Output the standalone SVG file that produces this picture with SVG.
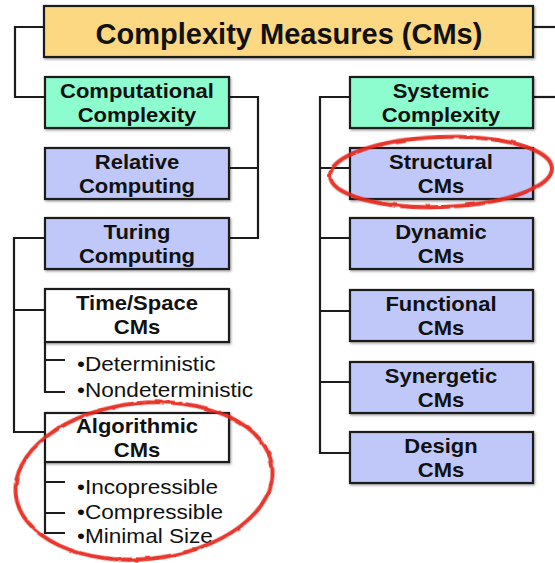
<svg xmlns="http://www.w3.org/2000/svg" width="555" height="563" viewBox="0 0 555 563">
  <defs>
    <filter id="shadow" x="-5%" y="-10%" width="110%" height="125%">
      <feDropShadow dx="1.2" dy="1.5" stdDeviation="0.9" flood-color="#000" flood-opacity="0.35"/>
    </filter>
    <filter id="rough" x="-10%" y="-20%" width="120%" height="140%">
      <feTurbulence type="fractalNoise" baseFrequency="0.08" numOctaves="2" seed="3" result="n"/>
      <feDisplacementMap in="SourceGraphic" in2="n" scale="2.5" xChannelSelector="R" yChannelSelector="G"/>
    </filter>
  </defs>
  <style>
    .box { stroke: #1c1c1c; stroke-width: 2.2; filter: url(#shadow); }
    .root { fill: #fdd883; }
    .aqua { fill: #8dfcce; }
    .lav { fill: #bfc8f9; }
    .plain { fill: #ffffff; }
    .lbl { font-family: "Liberation Sans", Arial, sans-serif; font-weight: bold; font-size: 20px; fill: #111; text-anchor: middle; transform-box: fill-box; transform-origin: center; transform: scaleX(1.1); }
    .title { font-family: "Liberation Sans", Arial, sans-serif; font-weight: bold; font-size: 29px; fill: #111; text-anchor: middle; }
    .item { font-family: "Liberation Sans", Arial, sans-serif; font-size: 20px; fill: #111; transform-box: fill-box; transform-origin: left center; transform: scaleX(1.13); }
    .wire { fill: none; stroke: #1c1c1c; stroke-width: 2.2; }
    .mark { fill: none; stroke: #e8261d; stroke-width: 4; opacity: 0.92; filter: url(#rough); }
  </style>

  <rect width="555" height="563" fill="#ffffff"/>

  <!-- tree connectors -->
  <g id="connectors">
    <path class="wire" d="M44,27 H15 V97 H45"/>
    <path class="wire" d="M533,27 H555"/>
    <path class="wire" d="M229,97 H258 V238 H229 M229,168 H258"/>
    <path class="wire" d="M45,238 H14 V432 H45 M14,310 H45"/>
    <path class="wire" d="M45,342 V392 H65 M45,360 H65"/>
    <path class="wire" d="M45,462 V533 H65 M45,482 H65 M45,513 H65"/>
    <path class="wire" d="M350,97 H320 V453 H350 M320,168 H350 M320,238 H350 M320,311 H350 M320,382 H350"/>
    <path class="wire" d="M533,97 H555"/>
  </g>

  <g id="complexity-measures">
    <rect class="box root" x="44" y="6" width="489" height="51"/>
    <text class="title" x="289" y="44">Complexity Measures (CMs)</text>
  </g>

  <g id="computational-complexity">
    <rect class="box aqua" x="45" y="77" width="184" height="51"/>
    <text class="lbl" x="137" y="98">Computational</text>
    <text class="lbl" x="137" y="122">Complexity</text>
  </g>

  <g id="relative-computing">
    <rect class="box lav" x="45" y="148" width="184" height="51"/>
    <text class="lbl" x="137" y="169">Relative</text>
    <text class="lbl" x="137" y="193">Computing</text>
  </g>

  <g id="turing-computing">
    <rect class="box lav" x="45" y="218" width="184" height="51"/>
    <text class="lbl" x="137" y="239">Turing</text>
    <text class="lbl" x="137" y="263">Computing</text>
  </g>

  <g id="time-space-cms">
    <rect class="box plain" x="45" y="289" width="184" height="53"/>
    <text class="lbl" x="137" y="310">Time/Space</text>
    <text class="lbl" x="137" y="334">CMs</text>
    <text class="item" x="77" y="371">•Deterministic</text>
    <text class="item" x="77" y="397">•Nondeterministic</text>
  </g>

  <g id="algorithmic-cms">
    <rect class="box plain" x="45" y="413" width="184" height="49"/>
    <text class="lbl" x="137" y="433">Algorithmic</text>
    <text class="lbl" x="137" y="457">CMs</text>
    <text class="item" x="77" y="494">•Incopressible</text>
    <text class="item" x="77" y="519">•Compressible</text>
    <text class="item" x="77" y="543">•Minimal Size</text>
  </g>

  <g id="systemic-complexity">
    <rect class="box aqua" x="350" y="77" width="183" height="51"/>
    <text class="lbl" x="441" y="98">Systemic</text>
    <text class="lbl" x="441" y="122">Complexity</text>
  </g>

  <g id="structural-cms">
    <rect class="box lav" x="350" y="148" width="183" height="51"/>
    <text class="lbl" x="441" y="169">Structural</text>
    <text class="lbl" x="441" y="193">CMs</text>
  </g>

  <g id="dynamic-cms">
    <rect class="box lav" x="350" y="218" width="183" height="51"/>
    <text class="lbl" x="441" y="239">Dynamic</text>
    <text class="lbl" x="441" y="263">CMs</text>
  </g>

  <g id="functional-cms">
    <rect class="box lav" x="350" y="290" width="183" height="51"/>
    <text class="lbl" x="441" y="311">Functional</text>
    <text class="lbl" x="441" y="335">CMs</text>
  </g>

  <g id="synergetic-cms">
    <rect class="box lav" x="350" y="362" width="183" height="51"/>
    <text class="lbl" x="441" y="383">Synergetic</text>
    <text class="lbl" x="441" y="407">CMs</text>
  </g>

  <g id="design-cms">
    <rect class="box lav" x="350" y="432" width="183" height="51"/>
    <text class="lbl" x="441" y="453">Design</text>
    <text class="lbl" x="441" y="477">CMs</text>
  </g>

  <!-- hand-drawn red highlight rings -->
  <g id="highlights">
    <ellipse class="mark" cx="441" cy="172" rx="111" ry="35" transform="rotate(-2 441 172)"/>
    <ellipse class="mark" cx="144" cy="481" rx="129" ry="78" transform="rotate(-6 144 481)"/>
  </g>
</svg>
